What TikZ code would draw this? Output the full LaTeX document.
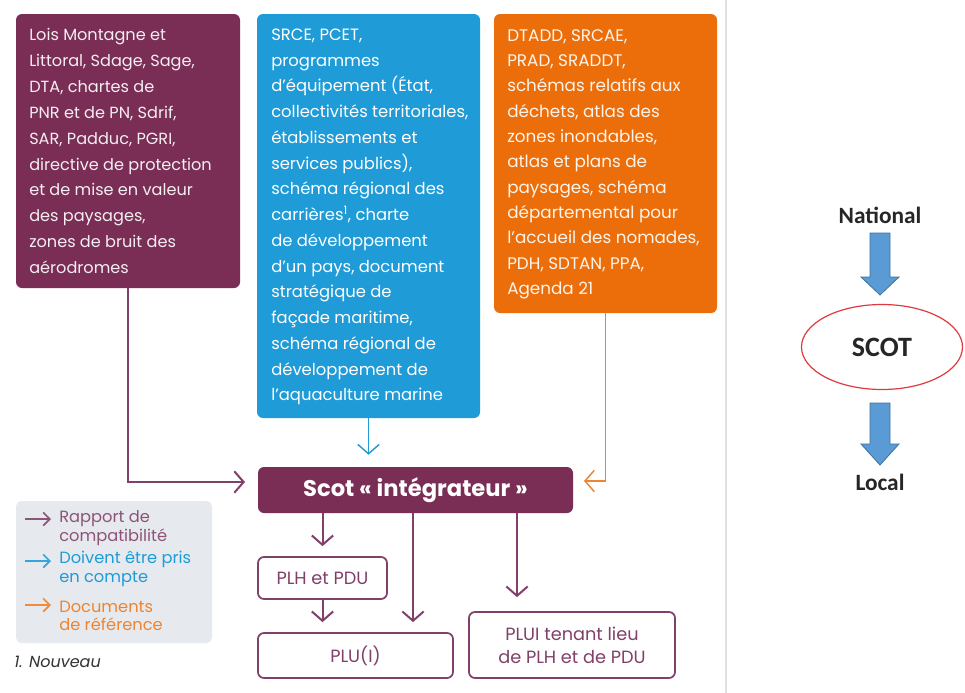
\documentclass[tikz,border=0pt]{standalone}
\usepackage{fontspec}
\setmainfont{Poppins}
\newfontfamily\calibri{Carlito}
\usetikzlibrary{arrows.meta,shapes.geometric,calc}
\definecolor{plum}{HTML}{7A2E56}
\definecolor{plumline}{HTML}{80406A}
\definecolor{skyb}{HTML}{1F9BD7}
\definecolor{orng}{HTML}{EC6E0B}
\definecolor{legbg}{HTML}{E6EAEE}
\definecolor{arrfill}{HTML}{5B9BD5}
\definecolor{arrline}{HTML}{41719C}
\definecolor{ellred}{HTML}{E0393E}
\tikzset{
  colbox/.style={rounded corners=4.5pt, minimum width=167.25pt, inner sep=0pt},
  boxtext/.style={anchor=west, align=left, inner sep=0pt, text=white,
    font={\fontsize{12.2}{19.4}\selectfont}},
  outbox/.style={draw=plumline, line width=1.3pt, rounded corners=4.5pt, text=plumline,
    inner sep=0pt, font={\fontsize{13.3}{17.25}\selectfont}, align=center},
  barb/.style={-{Straight Barb[length=7pt,width=16pt]}},
  plink/.style={barb, draw=plumline, line width=1.5pt},
  blink/.style={barb, draw=skyb, line width=1.1pt},
  olink/.style={barb, draw=orng!85!white, line width=1.1pt},
  legarr/.style={-{Straight Barb[length=5pt,width=10pt]}, line width=1.2pt},
  legtext/.style={anchor=west, align=left, inner sep=0pt, font={\fontsize{12.2}{13.8}\selectfont}},
  bigarr/.style={fill=arrfill, draw=arrline, line width=0.6pt},
  lvl/.style={font={\calibri\bfseries\fontsize{17.5}{20}\selectfont}, text=black!85, inner sep=0pt}
}
\begin{document}
\begin{tikzpicture}[x=0.75pt,y=-0.75pt]
\useasboundingbox (0,0) rectangle (965,693);
\fill[white] (0,0) rectangle (965,693);
% separator
\draw[black!12, line width=0.8pt] (726,0) -- (726,693);

% coloured boxes
\node[colbox, fill=plum, minimum width=168pt, minimum height=205.5pt] (pbox) at (128,151) {};
\node[boxtext, text=white!92!plum, font={\fontsize{12.1}{19.4}\selectfont}] (ptext) at (29,151) {Lois Montagne et\\Littoral, Sdage, Sage,\\DTA, chartes de\\PNR et de PN, Sdrif,\\SAR, Padduc, PGRI,\\directive de protection\\et de mise en valeur\\des paysages,\\zones de bruit des\\aérodromes};

\node[colbox, fill=skyb, minimum height=303pt] (bbox) at (368.5,216) {};
\node[boxtext, font={\fontsize{12.3}{19.3}\selectfont}] (btext) at (271,217) {SRCE, PCET,\\programmes\\d’équipement (État,\\collectivités territoriales,\\établissements et\\services publics),\\schéma régional des\\carrières\textsuperscript{1}, charte\\de développement\\d’un pays, document\\stratégique de\\façade maritime,\\schéma régional de\\développement de\\l’aquaculture marine};

\node[colbox, fill=orng, minimum height=224.25pt] (obox) at (605.5,163.5) {};
\node[boxtext, text=white!92!orng, font={\fontsize{12.6}{19}\selectfont}] (otext) at (507,164) {DTADD, SRCAE,\\PRAD, SRADDT,\\schémas relatifs aux\\déchets, atlas des\\zones inondables,\\atlas et plans de\\paysages, schéma\\départemental pour\\l’accueil des nomades,\\PDH, SDTAN, PPA,\\Agenda 21};

% Scot box
\node[fill=plum, rounded corners=4.5pt, minimum width=236.25pt, minimum height=34.5pt, inner sep=0pt,
  text=white, font={\bfseries\fontsize{17}{20}\selectfont}] (scot) at (415.5,490) {Scot « intégrateur »};

% lower boxes
\node[outbox, minimum width=96.75pt, minimum height=31.5pt] (plh) at (322.5,578) {PLH et PDU};
\node[outbox, minimum width=146.25pt, minimum height=33.75pt] (plu) at (355.5,655.5) {PLU(I)};
\node[outbox, minimum width=154.5pt, minimum height=49.5pt] (plui) at (572,645) {PLUI tenant lieu\\de PLH et de PDU};

% connectors into Scot
\coordinate (pin) at (245,482);
\coordinate (oin) at (584,481);
\draw[plink] (pbox.south) |- (pin);
\draw[blink, shorten >=9pt] (bbox.south) -- (scot.north -| bbox.south);
\draw[olink] (obox.south) |- (oin);

% connectors out of Scot
\draw[plink, shorten >=7.5pt] (scot.south -| plh.north) -- (plh.north);
\draw[plink, shorten >=7.5pt] (scot.south -| 413,0) -- (plu.north -| 413,0);
\draw[plink, shorten >=10.5pt] (scot.south -| 517,0) -- (plui.north -| 517,0);
\draw[plink, shorten >=7.5pt] (plh.south) -- (plu.north -| plh.south);

% legend
\node[fill=legbg, rounded corners=4pt, minimum width=147pt, minimum height=106.5pt, inner sep=0pt] (leg) at (114,572) {};
\coordinate (la1) at (25,519); \coordinate (lb1) at (51,519);
\coordinate (la2) at (25,561); \coordinate (lb2) at (51,561);
\coordinate (la3) at (25,605); \coordinate (lb3) at (51,605);
\draw[legarr, draw=plumline!90!white] (la1) -- (lb1);
\draw[legarr, draw=skyb!90!white] (la2) -- (lb2);
\draw[legarr, draw=orng!80!white] (la3) -- (lb3);
\node[legtext, text=plumline!90!white] (lt1) at (59,528) {Rapport de\\compatibilité};
\node[legtext, text=skyb] (lt2) at (59,569) {Doivent être pris\\en compte};
\node[legtext, text=orng!85!white] (lt3) at (59,616) {Documents\\de référence};
\node[anchor=west, inner sep=0pt, font={\itshape\fontsize{12}{14}\selectfont}, text=black!80] (note) at (14,662) {1. Nouveau};

% right panel
\node[lvl] (nat) at (880,215) {National};
\node[draw=ellred, line width=0.9pt, ellipse, minimum width=120.75pt, minimum height=63.75pt, inner sep=0pt,
  font={\calibri\bfseries\fontsize{21}{24}\selectfont}, text=black!85] (scot2) at (882,347) {SCOT};
\node[lvl] (loc) at (880,482) {Local};
\draw[bigarr] (870,233) -- (890,233) -- (890,277) -- (899,277) -- (880,295) -- (861,277) -- (870,277) -- cycle;
\draw[bigarr] (870,403) -- (890,403) -- (890,444) -- (899,444) -- (880,465) -- (861,444) -- (870,444) -- cycle;
\end{tikzpicture}
\end{document}
